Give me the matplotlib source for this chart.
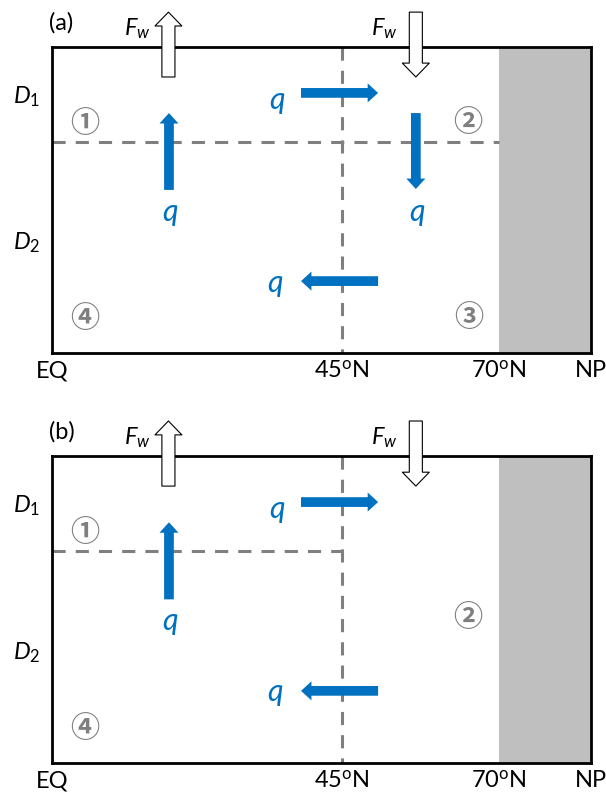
import matplotlib
matplotlib.use('Agg')
import matplotlib.pyplot as plt
from matplotlib.patches import FancyArrowPatch

plt.rcParams['font.family'] = ['Lato', 'DejaVu Sans']
plt.rcParams['mathtext.fontset'] = 'custom'
plt.rcParams['mathtext.rm'] = 'Lato'
plt.rcParams['mathtext.it'] = 'Lato:italic'

# schematic units: x = 0 (EQ) .. 100 (NP), y = depth 0 (surface) .. 100 (bottom)
lat_pos = [0, 53.8, 82.9, 100]
lat_labels = ['EQ', r'45$^{\mathrm{o}}$N', r'70$^{\mathrm{o}}$N', 'NP']
front_x = 53.8          # 45N boundary
ice_x = 82.9            # 70N, grey polar cap
layer_y = 31.0          # D1 / D2 interface
layer_labels = [r'$D_{\mathit{1}}$', r'$D_{\mathit{2}}$']
layer_label_y = [16.3, 64.0]

# blue transport arrows (x0, y0, x1, y1)
q_arrows_a = [(21.7, 46.7, 21.7, 21.6), (67.5, 21.6, 67.5, 46.4),
              (46.2, 15.0, 60.5, 15.0), (60.5, 76.5, 46.2, 76.5)]
q_text_a = [(21.9, 53.8), (67.7, 53.8), (41.8, 17.2), (41.4, 77.0)]
q_arrows_b = [(21.7, 46.7, 21.7, 21.6),
              (46.2, 15.0, 60.5, 15.0), (60.5, 76.5, 46.2, 76.5)]
q_text_b = [(21.9, 53.8), (41.8, 17.2), (41.4, 77.0)]

# freshwater flux arrows (up at the south, down at the north)
fw_arrows = [(21.6, 9.8, 21.6, -11.4), (67.5, -11.4, 67.5, 9.8)]
fw_text = [(15.8, -6.0), (61.6, -6.0)]

boxes_a = [('①', 6.1, 24.8), ('②', 77.2, 24.5), ('③', 77.4, 88.2), ('④', 6.1, 88.6)]
boxes_b = [('①', 6.1, 24.8), ('②', 77.2, 52.6), ('④', 6.1, 88.6)]

BLUE = '#0070C0'
GREY = '#7F7F7F'
DASH = (0, (4.3, 3.3))


def draw_panel(ax, tag, q_arrows, q_text, boxes, layer_x_end):
    ax.set_xlim(0, 100)
    ax.set_ylim(100, 0)
    ax.set_xticks([])
    ax.set_yticks([])
    for s in ax.spines.values():
        s.set_linewidth(2)
        s.set_color('black')
    ax.axvspan(ice_x, 100, color='#BFBFBF', lw=0, zorder=0)

    # boxes separation
    ax.plot([front_x, front_x], [0, 100], color=GREY, lw=2.2, ls=DASH, zorder=1)
    ax.plot([0, layer_x_end], [layer_y, layer_y], color=GREY, lw=2.2, ls=DASH, zorder=1)

    for x0, y0, x1, y1 in q_arrows:
        ax.add_patch(FancyArrowPatch((x0, y0), (x1, y1),
                                     arrowstyle='simple,head_length=7.5,head_width=13.7,tail_width=7.0',
                                     mutation_scale=1, shrinkA=0, shrinkB=0,
                                     color=BLUE, lw=0, zorder=4))
    for x, y in q_text:
        ax.text(x, y, 'q', color=BLUE, fontsize=22, style='italic',
                ha='center', va='center')

    for (x0, y0, x1, y1), (tx, ty) in zip(fw_arrows, fw_text):
        ax.add_patch(FancyArrowPatch((x0, y0), (x1, y1),
                                     arrowstyle='simple,head_length=10,head_width=19.4,tail_width=9.4',
                                     mutation_scale=1, shrinkA=0, shrinkB=0,
                                     fc='white', ec='black', lw=0.8,
                                     zorder=5, clip_on=False))
        ax.text(tx, ty, r'$F_w$', fontsize=17, ha='center', va='center')

    for lab, x, y in boxes:
        ax.text(x, y, lab, color=GREY, fontsize=21, fontweight='bold',
                ha='center', va='center',
                family=['Noto Sans CJK JP', 'DejaVu Sans'])

    for lab, y in zip(layer_labels, layer_label_y):
        ax.text(-4.7, y, lab, fontsize=17, ha='center', va='center')
    for lab, x in zip(lat_labels, lat_pos):
        ax.text(x, 105.8, lab, fontsize=17, ha='center', va='center')
    ax.text(-0.6, -7.8, tag, fontsize=17, ha='left', va='center')


fig = plt.figure(figsize=(6.06, 7.94), dpi=100)
ax_a = fig.add_axes([52 / 606, 1 - 353 / 794, 539 / 606, 306 / 794])
ax_b = fig.add_axes([52 / 606, 1 - 763 / 794, 539 / 606, 307 / 794])

draw_panel(ax_a, '(a)', q_arrows_a, q_text_a, boxes_a, ice_x)
draw_panel(ax_b, '(b)', q_arrows_b, q_text_b, boxes_b, front_x)

fig.savefig('out.png', dpi=100)
